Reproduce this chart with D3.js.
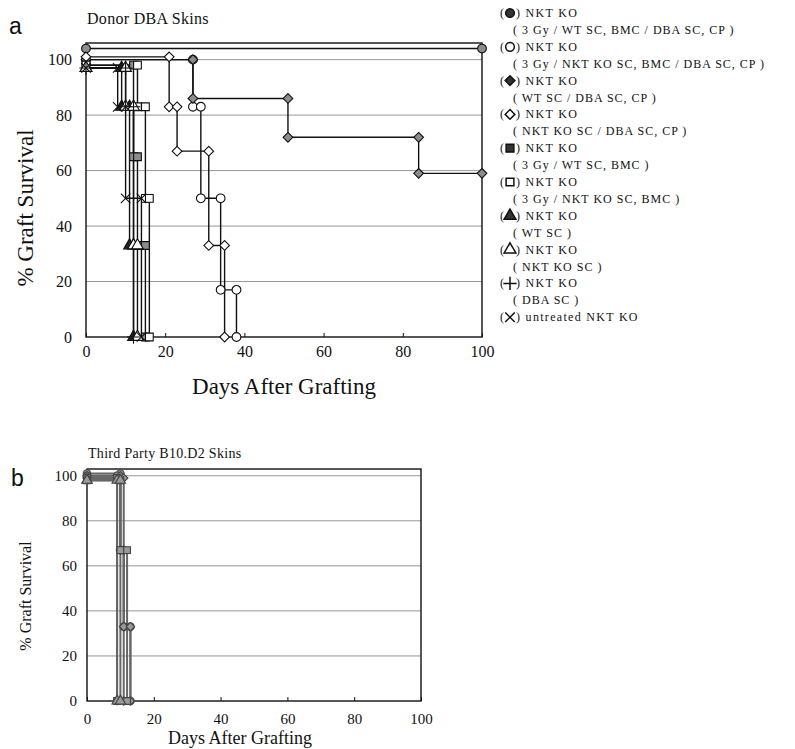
<!DOCTYPE html>
<html>
<head>
<meta charset="utf-8">
<script src="https://cdn.jsdelivr.net/npm/d3@7"></script>
<style>
  body { margin: 0; background: #fff; }
  text { font-family: "Liberation Serif", "DejaVu Serif", serif; fill: #111; }
</style>
</head>
<body>
<script>
// legend entries (one per group)
const legendNames = ["NKT KO", "NKT KO", "NKT KO", "NKT KO", "NKT KO",
    "NKT KO", "NKT KO", "NKT KO", "NKT KO", "untreated NKT KO"]
const legendDetails = ["( 3 Gy / WT SC, BMC / DBA SC, CP )", "( 3 Gy / NKT KO SC, BMC / DBA SC, CP )",
    "( WT SC / DBA SC, CP )", "( NKT KO SC / DBA SC, CP )", "( 3 Gy / WT SC, BMC )",
    "( 3 Gy / NKT KO SC, BMC )", "( WT SC )", "( NKT KO SC )", "( DBA SC )", null]
const symbolKeys = ["filledCircle", "openCircle", "filledDiamond", "openDiamond", "filledSquare",
    "openSquare", "filledTriangle", "openTriangle", "plus", "cross"]

const xTicks = [0, 20, 40, 60, 80, 100]
const yTicks = [0, 20, 40, 60, 80, 100]

// panel a: donor DBA skins, [day, % survival]
const donorFilledCircle = [[0, 104], [100, 104]]
const donorOpenCircle = [[0, 100], [27, 100], [27, 83], [29, 83], [29, 50], [34, 50], [34, 17], [38, 17], [38, 0]]
const donorFilledDiamond = [[0, 100], [27, 100], [27, 86], [51, 86], [51, 72], [84, 72], [84, 59], [100, 59]]
const donorOpenDiamond = [[0, 101], [21, 101], [21, 83], [23, 83], [23, 67], [31, 67], [31, 33], [35, 33], [35, 0]]
const donorFilledSquare = [[0, 98], [12, 98], [12, 65], [13, 65], [13, 33], [15, 33], [15, 0]]
const donorOpenSquare = [[0, 98], [13, 98], [13, 83], [15, 83], [15, 50], [16, 50], [16, 0]]
const donorFilledTriangle = [[0, 97], [9, 97], [9, 83], [11, 83], [11, 33], [12, 33], [12, 0]]
const donorOpenTriangle = [[0, 97], [10, 97], [10, 83], [12, 83], [12, 33], [13, 33], [13, 0]]
const donorPlus = [[0, 97], [10, 97], [10, 83], [12, 83], [12, 0]]
const donorCross = [[0, 97], [8, 97], [8, 83], [10, 83], [10, 50], [14, 50], [14, 0]]

// panel b: third party B10.D2 skins
const thirdFilledCircle = [[0, 101], [10, 101], [10, 67], [11, 67], [11, 33], [13, 33], [13, 0]]
const thirdOpenCircle = [[0, 100], [9, 100], [9, 0]]
const thirdFilledDiamond = [[0, 100], [10, 100], [10, 67], [11, 67], [11, 0]]
const thirdOpenDiamond = [[0, 99], [11, 99], [11, 33], [13, 33], [13, 0]]
const thirdFilledSquare = [[0, 99], [9, 99], [9, 0]]
const thirdOpenSquare = [[0, 98], [10, 98], [10, 67], [12, 67], [12, 0]]
const thirdFilledTriangle = [[0, 98], [9, 98], [9, 0]]
const thirdOpenTriangle = [[0, 98], [10, 98], [10, 0]]

const donorSeries = {
    filledCircle: donorFilledCircle, openCircle: donorOpenCircle,
    filledDiamond: donorFilledDiamond, openDiamond: donorOpenDiamond,
    filledSquare: donorFilledSquare, openSquare: donorOpenSquare,
    filledTriangle: donorFilledTriangle, openTriangle: donorOpenTriangle,
    plus: donorPlus, cross: donorCross
}
const thirdSeries = {
    filledCircle: thirdFilledCircle, openCircle: thirdOpenCircle,
    filledDiamond: thirdFilledDiamond, openDiamond: thirdOpenDiamond,
    filledSquare: thirdFilledSquare, openSquare: thirdOpenSquare,
    filledTriangle: thirdFilledTriangle, openTriangle: thirdOpenTriangle
}

// marker look per key
const markers = {
    filledCircle: { type: d3.symbolCircle, fill: "#8c8c8c" },
    openCircle: { type: d3.symbolCircle, fill: "#fff" },
    filledDiamond: { type: d3.symbolDiamond2, fill: "#8c8c8c" },
    openDiamond: { type: d3.symbolDiamond2, fill: "#fff" },
    filledSquare: { type: d3.symbolSquare, fill: "#8c8c8c" },
    openSquare: { type: d3.symbolSquare, fill: "#fff" },
    filledTriangle: { type: d3.symbolTriangle, fill: "#222" },
    openTriangle: { type: d3.symbolTriangle, fill: "#fff" },
    plus: { type: d3.symbolPlus, fill: "none" },
    cross: { type: d3.symbolX, fill: "none" }
}

const svg = d3.select("body").append("svg")
    .attr("width", 795)
    .attr("height", 749)

function drawPanel(opts) {
    const x = d3.scaleLinear().domain([0, 100]).range([opts.left, opts.right])
    const y = d3.scaleLinear().domain([0, opts.yMax]).range([opts.bottom, opts.top])
    const g = svg.append("g")

    // gridlines
    g.selectAll(".grid")
        .data(yTicks.filter(d => d > 0))
        .enter().append("line")
        .attr("x1", opts.left).attr("x2", opts.right)
        .attr("y1", d => y(d)).attr("y2", d => y(d))
        .attr("stroke", "#8a8a8a").attr("stroke-width", 0.9)

    // frame
    g.append("rect")
        .attr("x", opts.left).attr("y", opts.top)
        .attr("width", opts.right - opts.left).attr("height", opts.bottom - opts.top)
        .attr("fill", "none").attr("stroke", "#111").attr("stroke-width", 1.4)

    // axes
    const xAxis = g.append("g").attr("transform", `translate(0,${opts.bottom})`)
        .call(d3.axisBottom(x).tickValues(xTicks).tickSize(-4).tickPadding(opts.tickPad))
    xAxis.select(".domain").remove()
    xAxis.selectAll("line").attr("stroke", "#111")
    xAxis.selectAll("text").style("font-size", opts.tickFont + "px")
        .attr("font-family", null).attr("dy", "0.9em")

    const yAxis = g.append("g").attr("transform", `translate(${opts.left},0)`)
        .call(d3.axisLeft(y).tickValues(yTicks).tickSize(0).tickPadding(opts.yTickPad))
    yAxis.select(".domain").remove()
    yAxis.selectAll("text").style("font-size", opts.tickFont + "px").attr("font-family", null)

    // series lines
    const line = d3.line().x(d => x(d[0])).y(d => y(d[1]))
    const keys = Object.keys(opts.series)
    g.selectAll(".series")
        .data(keys)
        .enter().append("path")
        .attr("d", k => line(opts.series[k]))
        .attr("fill", "none")
        .attr("stroke", opts.lineColor)
        .attr("stroke-width", opts.lineWidth)

    // markers
    keys.forEach(function (k) {
        const m = markers[k]
        g.selectAll(".m-" + k)
            .data(opts.series[k])
            .enter().append("path")
            .attr("transform", d => `translate(${x(d[0])},${y(d[1])})`)
            .attr("d", d3.symbol().type(m.type).size(opts.markerSize))
            .attr("fill", opts.markerFill || m.fill)
            .attr("stroke", opts.markerStroke)
            .attr("stroke-width", 1.1)
    })

    // texts
    svg.append("text").attr("x", opts.labelX).attr("y", opts.labelY)
        .style("font-family", "'Liberation Sans', Arial, sans-serif")
        .style("font-size", "23px").text(opts.label)
    svg.append("text").attr("x", opts.left + 1).attr("y", opts.titleY)
        .style("font-size", opts.titleFont + "px").style("letter-spacing", "0.3px")
        .text(opts.title)
    svg.append("text")
        .attr("transform", `translate(${opts.yLabelX},${opts.yLabelY}) rotate(-90)`)
        .attr("text-anchor", "middle")
        .style("font-size", opts.yLabelFont + "px")
        .text("% Graft Survival")
    svg.append("text")
        .attr("x", opts.xLabelX).attr("y", opts.xLabelY)
        .attr("text-anchor", "middle")
        .style("font-size", opts.xLabelFont + "px")
        .text("Days After Grafting")
}

drawPanel({
    left: 86, right: 482, top: 43, bottom: 337, yMax: 106,
    series: donorSeries, markerSize: 60, lineColor: "#111", lineWidth: 1.4,
    markerStroke: "#111",
    tickFont: 16, tickPad: 6, yTickPad: 14,
    label: "a", labelX: 9, labelY: 34,
    title: "Donor DBA Skins", titleY: 24, titleFont: 16,
    yLabelX: 33, yLabelY: 208, yLabelFont: 23,
    xLabelX: 284, xLabelFont: 23, xLabelY: 394
})

drawPanel({
    left: 87, right: 421, top: 469, bottom: 701, yMax: 103,
    series: thirdSeries, markerSize: 45, lineColor: "#666", lineWidth: 2,
    markerFill: "#999", markerStroke: "#444",
    tickFont: 15, tickPad: 9, yTickPad: 10,
    label: "b", labelX: 11, labelY: 486,
    title: "Third Party B10.D2 Skins", titleY: 458, titleFont: 14,
    yLabelX: 31, yLabelY: 596, yLabelFont: 16,
    xLabelX: 240, xLabelFont: 18, xLabelY: 744
})

// legend
const legend = svg.append("g").attr("transform", "translate(500,0)")
const rowH = 16.9
symbolKeys.forEach(function (k, i) {
    const yRow = 17 + i * 2 * rowH
    const m = markers[k]
    legend.append("text").attr("x", 0).attr("y", yRow).style("font-size", "12px").text("(")
    legend.append("path")
        .attr("transform", `translate(10,${yRow - 4})`)
        .attr("d", d3.symbol().type(m.type).size(60))
        .attr("fill", m.fill === "#fff" ? "#fff" : (m.fill === "none" ? "none" : "#333"))
        .attr("stroke", "#111").attr("stroke-width", 1.5)
    legend.append("text").attr("x", 16).attr("y", yRow)
        .style("font-size", "12px").style("letter-spacing", "1.3px")
        .text(") " + legendNames[i])
    if (legendDetails[i]) {
        legend.append("text").attr("x", 13).attr("y", yRow + rowH)
            .style("font-size", "12px").style("letter-spacing", "1px")
            .text(legendDetails[i])
    }
})
</script>
</body>
</html>
